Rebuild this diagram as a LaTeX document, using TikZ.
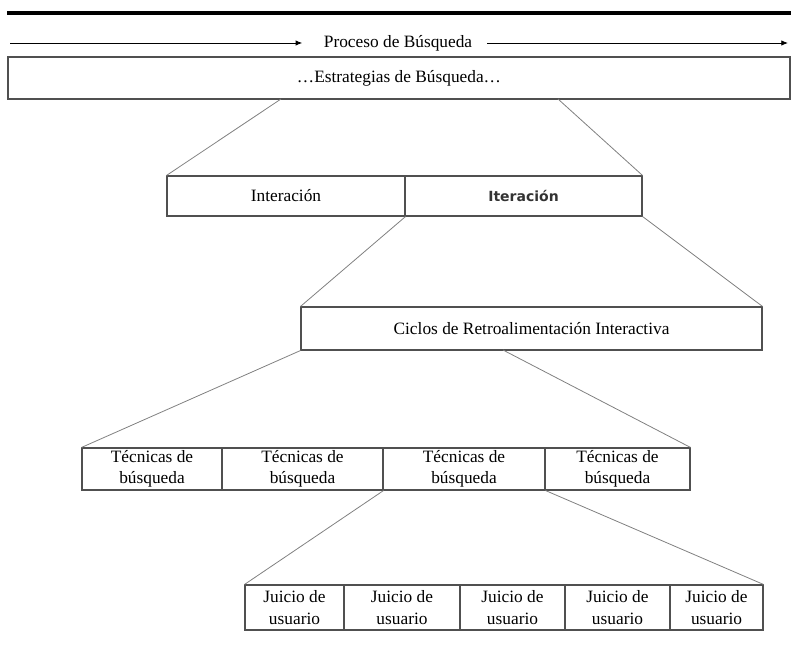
\documentclass[tikz,border=0pt]{standalone}
\usepackage{fontspec}
\setmainfont{Liberation Serif}
\newfontfamily\itfont{DejaVu Sans}
\usetikzlibrary{arrows.meta}
\definecolor{boxline}{HTML}{505050}
\definecolor{conn}{HTML}{808080}
\begin{document}
\begin{tikzpicture}[x=0.75pt,y=-0.75pt,
  cell/.style={draw=boxline,line width=0.8pt,rectangle,inner sep=0pt,align=center,font=\fontsize{13}{15.5}\selectfont},
  sz/.style 2 args={minimum width=#1*0.75pt,minimum height=#2*0.75pt},
  link/.style={draw=conn,line width=0.6pt},
  flow/.style={draw=black,line width=0.6pt,-{Latex[length=5pt,width=4pt]}}]
\useasboundingbox (0,0) rectangle (791,649);
\draw[line width=2.4pt] (7,13) -- (791,13);
% process arrow
\node[font=\fontsize{13}{15}\selectfont,inner xsep=0pt] (proc) at (398,43) {Proceso de Búsqueda};
\coordinate (a0) at (10,43);
\coordinate (a1) at (788,43);
\draw[flow] (a0) -- ([xshift=-16pt]proc.west);
\draw[flow] ([xshift=11pt]proc.east) -- (a1);
% top box
\node[cell,sz={782}{42}] (top) at (399,78) {…Estrategias de Búsqueda…};
\coordinate (t1) at (281,99);
\coordinate (t2) at (558,99);
% level 2
\node[cell,sz={238}{40}] (inter) at (286,196) {Interación};
\node[cell,sz={237}{40},font=\itfont\bfseries\fontsize{10.5}{12}\selectfont\color{black!80}] (iter) at (523.5,196) {Iteración};
\draw[link] (t1) -- (inter.north west);
\draw[link] (t2) -- (iter.north east);
% level 3
\node[cell,sz={461}{43}] (ciclos) at (531.5,328.5) {Ciclos de Retroalimentación Interactiva};
\draw[link] (inter.south east) -- (ciclos.north west);
\draw[link] (iter.south east) -- (ciclos.north east);
\coordinate (c2) at (503,350);
% level 4
\node[cell,sz={140}{42}] (tec1) at (152,469) {Técnicas de\\búsqueda};
\node[cell,sz={161}{42}] (tec2) at (302.5,469) {Técnicas de\\búsqueda};
\node[cell,sz={162}{42}] (tec3) at (464,469) {Técnicas de\\búsqueda};
\node[cell,sz={145}{42}] (tec4) at (617.5,469) {Técnicas de\\búsqueda};
\draw[link] (ciclos.south west) -- (tec1.north west);
\draw[link] (c2) -- (tec4.north east);
% level 5
\node[cell,sz={99}{45},font=\fontsize{13}{16.5}\selectfont] (j1) at (294.5,607.5) {Juicio de\\usuario};
\node[cell,sz={116}{45},font=\fontsize{13}{16.5}\selectfont] (j2) at (402,607.5) {Juicio de\\usuario};
\node[cell,sz={105}{45},font=\fontsize{13}{16.5}\selectfont] (j3) at (512.5,607.5) {Juicio de\\usuario};
\node[cell,sz={105}{45},font=\fontsize{13}{16.5}\selectfont] (j4) at (617.5,607.5) {Juicio de\\usuario};
\node[cell,sz={93}{45},font=\fontsize{13}{16.5}\selectfont] (j5) at (716.5,607.5) {Juicio de\\usuario};
\draw[link] (tec2.south east) -- (j1.north west);
\draw[link] (tec3.south east) -- (j5.north east);
\end{tikzpicture}
\end{document}
